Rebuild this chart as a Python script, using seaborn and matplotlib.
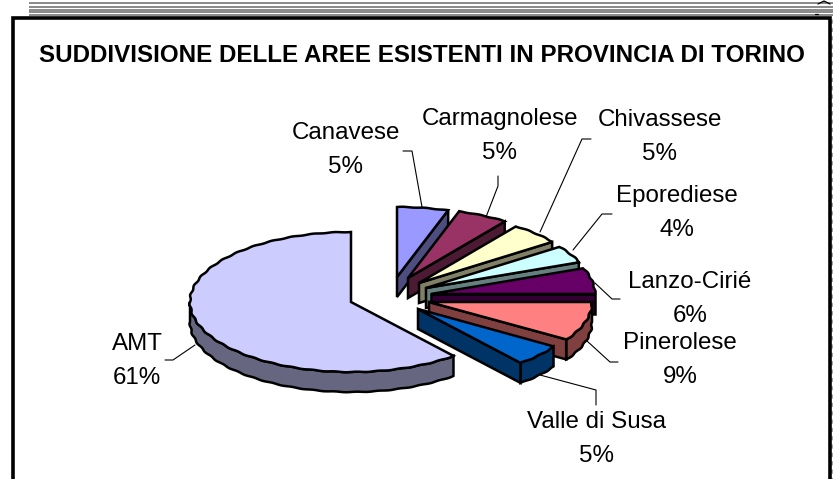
import numpy as np
import matplotlib
matplotlib.use("Agg")
import matplotlib.pyplot as plt
from matplotlib.patches import Polygon, Rectangle
import seaborn as sns

# Shares from the chart, in percent
AREAS = ["AMT", "Canavese", "Carmagnolese", "Chivassese", "Eporediese",
         "Lanzo-Cirié", "Pinerolese", "Valle di Susa"]
SHARES = [61, 5, 5, 5, 4, 6, 9, 5]
TITLE = "SUDDIVISIONE DELLE AREE ESISTENTI IN PROVINCIA DI TORINO"

TOP_COLORS = sns.color_palette(["#CCCCFF", "#9999FF", "#993366", "#FFFFCC",
                                "#CCFFFF", "#660066", "#FF8080", "#0066CC"])
SIDE_COLORS = sns.color_palette(["#666680", "#4D4D80", "#4D1A33", "#808066",
                                 "#668080", "#330033", "#804040", "#003366"])

# Layout in pixels: pie centre, ellipse radii, rim depth, explosion of each slice
CX, CY = 351, 302
RADII_X = [161, 165, 165, 165, 165, 164, 163, 161]
RY = 70
DEPTH = 20
EXPLODE = [(0, 0), (46, -25), (57, -24), (68, -19), (75, -14), (80, -8), (78, 0), (67, 7)]
START_ANGLE = 140.4  # clockwise from 12 o'clock

LABEL_POS = [(137, 361), (346, 150), (500, 136), (660, 137),
             (677, 213), (690, 299), (680, 360), (597, 439)]
LEADERS = [[(165, 360), (173, 360), (195, 345)],
           [(403, 151), (412, 151), (422, 207)],
           [(498, 176), (498, 186), (486, 217)],
           [(591, 139), (582, 139), (540, 232)],
           [(612, 214), (602, 214), (573, 250)],
           [(620, 299), (612, 299), (595, 283)],
           [(618, 362), (610, 362), (587, 341)],
           [(596, 405), (596, 390), (540, 375)]]

sns.set_theme(style="white")
plt.rcParams["font.family"] = ["Liberation Sans", "DejaVu Sans"]


def rim_xy(deg, cx, cy, rx):
    """Point on the ellipse; the small ripple mimics the stepped outline."""
    a = np.radians(deg)
    r = 1 + 0.004 * np.sin(a * 46)
    return cx + rx * r * np.sin(a), cy - RY * r * np.cos(a)


def draw_slice(ax, start, end, off, rx, top, side):
    cx, cy = CX + off[0], CY + off[1]
    kw = dict(edgecolor="black", lw=1.8, joinstyle="miter")

    # rim, only the part facing the viewer
    lo, hi = max(start, 90), min(end, 270)
    if hi > lo:
        t = np.linspace(lo, hi, 120)
        x, y = rim_xy(t, cx, cy, rx)
        pts = np.r_[np.c_[x, y], np.c_[x[::-1], y[::-1] + DEPTH]]
        ax.add_patch(Polygon(pts, facecolor=side, zorder=2, **kw))

    # cut face along the clockwise edge
    if 0 < end % 360 < 180:
        ex, ey = rim_xy(end, cx, cy, rx)
        pts = [(cx, cy), (ex, ey), (ex, ey + DEPTH), (cx, cy + DEPTH)]
        ax.add_patch(Polygon(pts, facecolor=side, zorder=2, **kw))

    # top surface
    t = np.linspace(start, end, max(int(end - start) * 3, 30))
    x, y = rim_xy(t, cx, cy, rx)
    pts = np.r_[[(cx, cy)], np.c_[x, y]]
    ax.add_patch(Polygon(pts, facecolor=top, zorder=2, **kw))


fig = plt.figure(figsize=(8.33, 4.79), dpi=100)
ax = fig.add_axes([0, 0, 1, 1])
ax.set_xlim(0, 833)
ax.set_ylim(479, 0)
ax.axis("off")

# scan stripes above the frame
for y0, y1 in [(2, 4), (5.5, 8), (9, 12.5), (13.7, 16)]:
    ax.add_patch(Rectangle((29, y0), 804, y1 - y0, facecolor="#8C8C8C", edgecolor="none"))
ax.plot([831.5, 831.5], [19, 479], color="#999999", lw=2, ls=(0, (1.5, 1.5)))

# stray specks at the top right corner of the scan
ax.plot([818, 824, 830], [4, 1, 4], color="black", lw=0.9)
ax.plot([815, 818], [13.5, 13.5], color="black", lw=0.9)

# chart frame
ax.plot([13.5, 13.5, 830, 830], [481, 17.5, 17.5, 481], color="black", lw=2.6,
        solid_joinstyle="miter")

ax.text(422, 55, TITLE, ha="center", va="center", fontsize=17.35, fontweight="bold", color="black")

# slices go clockwise from the start angle, back ones first
edges = START_ANGLE + np.cumsum([0] + SHARES) * 3.6
for i in range(len(SHARES)):
    # small slices wrap past 12 o'clock, keep them in 0-360
    s, e = edges[i], edges[i + 1]
    if s >= 360:
        s, e = s - 360, e - 360
    draw_slice(ax, s, e, EXPLODE[i], RADII_X[i], TOP_COLORS[i], SIDE_COLORS[i])

for pts in LEADERS:
    xs, ys = zip(*pts)
    ax.plot(xs, ys, color="black", lw=0.8, zorder=1)

for name, share, (x, y) in zip(AREAS, SHARES, LABEL_POS):
    ax.text(x, y, f"{name}\n{share}%", ha="center", va="center", fontsize=17.4,
            color="black", linespacing=1.7, zorder=3)

fig.savefig("out.png", dpi=100)
